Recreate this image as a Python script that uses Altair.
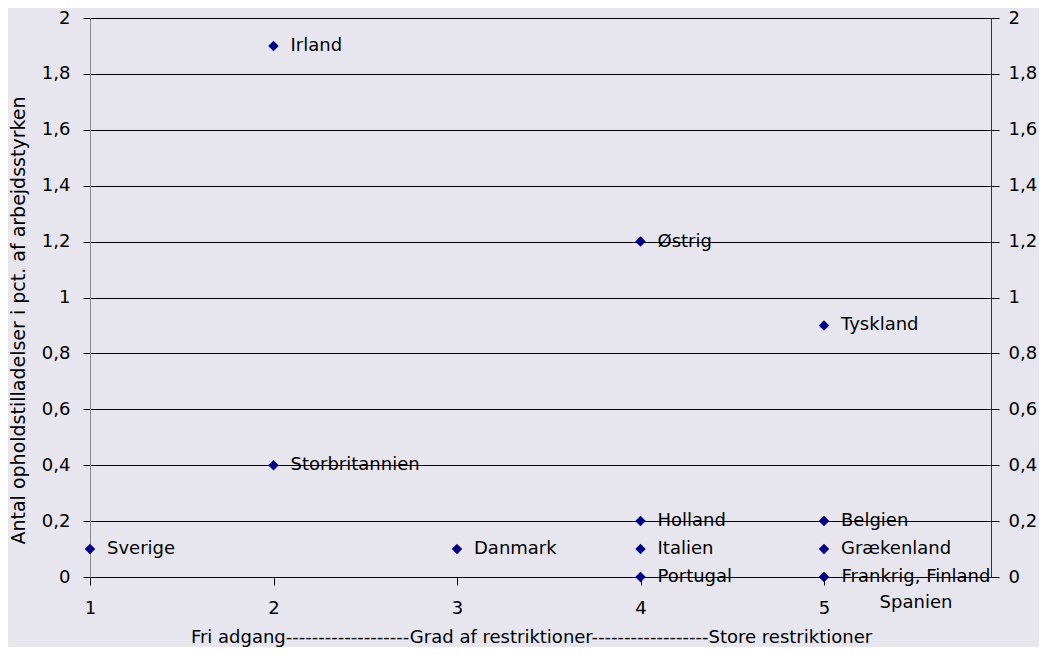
import altair as alt
import pandas as pd

countries = ["Sverige", "Irland", "Storbritannien", "Danmark", "Østrig", "Holland",
             "Italien", "Portugal", "Tyskland", "Belgien", "Grækenland",
             "Frankrig, Finland\nSpanien"]
restriktion = [1, 2, 2, 3, 4, 4, 4, 4, 5, 5, 5, 5]
andel = [0.1, 1.9, 0.4, 0.1, 1.2, 0.2, 0.1, 0.0, 0.9, 0.2, 0.1, 0.0]
special = [False] * 11 + [True]

y_ticks = [0, 0.2, 0.4, 0.6, 0.8, 1, 1.2, 1.4, 1.6, 1.8, 2]
x_ticks = [1, 2, 3, 4, 5]

y_title = "Antal opholdstilladelser i pct. af arbejdsstyrken"
x_title = "Fri adgang-------------------Grad af restriktioner------------------Store restriktioner"

df = pd.DataFrame({"land": countries, "x": restriktion, "y": andel, "special": special})

FONT = "DejaVu Sans"
comma = "replace(format(datum.value, '.1~f'), '.', ',')"

xscale = alt.Scale(domain=[1, 5.91], nice=False, zero=False)
yscale = alt.Scale(domain=[0, 2], nice=False)

x_axis = alt.Axis(values=x_ticks, format="d", grid=False, domainColor="#000", domainWidth=1,
                  tickColor="#000", tickSize=8, labelPadding=14, labelFontSize=18,
                  labelFont=FONT, labelColor="#000", labelFlush=False,
                  title=x_title, titleFont=FONT, titleFontSize=18, titleFontWeight="normal",
                  titleColor="#000", titleX=441, titleY=60, titleBaseline="middle",
                  titleAlign="center")

left_axis = alt.Axis(values=y_ticks, labelExpr=comma, grid=True, gridColor="#000",
                     gridWidth=1, gridOpacity=1, domainColor="#8a8a8a", domainWidth=1,
                     tickColor="#000", tickSize=7, labelPadding=13, labelFontSize=18,
                     labelFont=FONT, labelColor="#000",
                     title=y_title, titleFont=FONT, titleFontSize=19,
                     titleFontWeight="normal", titleColor="#000", titleX=-72, titleY=302,
                     titleAngle=270, titleBaseline="middle", titleAlign="center")

right_axis = alt.Axis(orient="right", values=y_ticks, labelExpr=comma, grid=False,
                      domainColor="#333", domainWidth=1, tickColor="#000", tickSize=8,
                      labelPadding=9, labelFontSize=18, labelFont=FONT, labelColor="#000",
                      title=None)

X = alt.X("x:Q", scale=xscale, axis=x_axis)

base = alt.Chart(df)

points = base.mark_point(shape="diamond", filled=True, color="#000080", size=110,
                         opacity=1).encode(
    x=X, y=alt.Y("y:Q", scale=yscale, axis=left_axis))

labels = base.transform_filter("!datum.special").mark_text(
    align="left", baseline="middle", dx=17, font=FONT, fontSize=18, color="#000").encode(
    x=X, y=alt.Y("y:Q", scale=yscale, axis=None), text="land:N")

special_label = base.transform_filter("datum.special").mark_text(
    align="center", baseline="middle", dx=92, dy=0, lineBreak="\n", lineHeight=26,
    font=FONT, fontSize=18, color="#000").encode(
    x=X, y=alt.Y("y:Q", scale=yscale, axis=None), text="land:N")

right = base.mark_point(opacity=0).encode(
    x=X, y=alt.Y("y:Q", scale=yscale, axis=right_axis))

chart = alt.layer(points, labels, special_label, right).resolve_axis(
    y="independent").properties(
    width=901, height=559,
    autosize=alt.AutoSizeParams(type="none"),
    padding={"left": 82, "top": 10, "right": 48, "bottom": 70},
    background="#E7E6EE",
).configure_view(stroke=None)

chart.save("out.html", embed_options={"renderer": "svg", "actions": False})
